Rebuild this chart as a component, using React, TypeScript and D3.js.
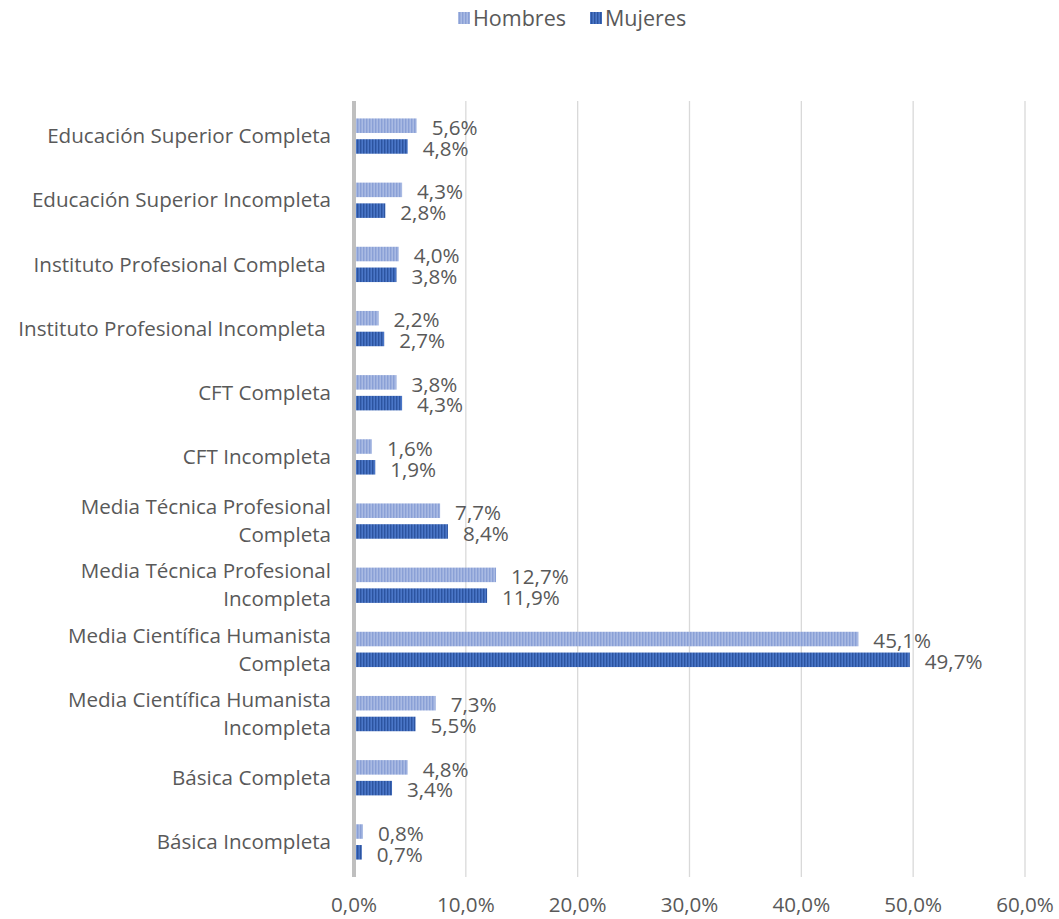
import * as d3 from "d3";

const categories = [
  ["Educación Superior Completa"],
  ["Educación Superior Incompleta"],
  ["Instituto Profesional Completa "],
  ["Instituto Profesional Incompleta "],
  ["CFT Completa"],
  ["CFT Incompleta"],
  ["Media Técnica Profesional", "Completa"],
  ["Media Técnica Profesional", "Incompleta"],
  ["Media Científica Humanista", "Completa"],
  ["Media Científica Humanista", "Incompleta"],
  ["Básica Completa"],
  ["Básica Incompleta"],
];

const hombres = [5.6, 4.3, 4.0, 2.2, 3.8, 1.6, 7.7, 12.7, 45.1, 7.3, 4.8, 0.8];
const mujeres = [4.8, 2.8, 3.8, 2.7, 4.3, 1.9, 8.4, 11.9, 49.7, 5.5, 3.4, 0.7];
const xTicks = [0, 10, 20, 30, 40, 50, 60];

const series = [
  { key: "Hombres", values: hombres, base: "#a9bae3", stripe: "#8aa0d6" },
  { key: "Mujeres", values: mujeres, base: "#4a76c7", stripe: "#2c54a0" },
];

const W = 1059;
const H = 919;
const font = "'Open Sans', 'Noto Sans', sans-serif";
const textColor = "#595959";
const fs = 20.6;

const fmt = (v: number) => v.toFixed(1).replace(".", ",") + "%";

export default function App() {
  const x = d3.scaleLinear().domain([0, 60]).range([354, 1025]);
  const y = d3
    .scaleBand<number>()
    .domain(d3.range(categories.length))
    .range([104, 874])
    .paddingInner(0.45)
    .paddingOuter(0.225);
  const sub = d3
    .scaleBand<string>()
    .domain(series.map((s) => s.key))
    .range([0, y.bandwidth()])
    .paddingInner(0.3);

  return (
    <svg
      width={W}
      height={H}
      style={{ position: "absolute", left: 0, top: 0, background: "#fff" }}
      fontFamily={font}
    >
      <defs>
        {series.map((s) => (
          <pattern
            key={s.key}
            id={"pat-" + s.key}
            width={3}
            height={4}
            patternUnits="userSpaceOnUse"
          >
            <rect width={3} height={4} fill={s.base} />
            <rect x={0} width={1.4} height={4} fill={s.stripe} />
          </pattern>
        ))}
      </defs>

      {/* legend */}
      {series.map((s, i) => {
        const lx = i === 0 ? 458 : 590;
        return (
          <g key={s.key}>
            <rect x={lx} y={12} width={12} height={12} fill={`url(#pat-${s.key})`} />
            <text x={lx + 15} y={18} dy="0.35em" fontSize={21.5} fill={textColor}>
              {s.key}
            </text>
          </g>
        );
      })}

      {/* gridlines */}
      {xTicks.slice(1).map((t) => (
        <line
          key={t}
          x1={x(t)}
          x2={x(t)}
          y1={101}
          y2={877}
          stroke="#d9d9d9"
          strokeWidth={1.3}
        />
      ))}

      {/* bars */}
      {categories.map((c, i) => (
        <g key={i}>
          {series.map((s) => {
            const by = (y(i) ?? 0) + (sub(s.key) ?? 0);
            const bh = sub.bandwidth();
            const v = s.values[i];
            return (
              <g key={s.key}>
                <rect
                  x={x(0)}
                  y={by}
                  width={x(v) - x(0)}
                  height={bh}
                  fill={`url(#pat-${s.key})`}
                />
                <text
                  x={x(v) + 15}
                  y={by + bh / 2 + 2}
                  dy="0.35em"
                  fontSize={fs}
                  fill={textColor}
                >
                  {fmt(v)}
                </text>
              </g>
            );
          })}
        </g>
      ))}

      {/* zero axis */}
      <line x1={x(0)} x2={x(0)} y1={101} y2={877} stroke="#bfbfbf" strokeWidth={4} />

      {/* category labels */}
      {categories.map((lines, i) => {
        const cy = (y(i) ?? 0) + y.bandwidth() / 2;
        const lh = 28;
        const start = cy - ((lines.length - 1) * lh) / 2;
        return (
          <text
            key={i}
            textAnchor="end"
            fontSize={fs}
            fill={textColor}
            style={{ whiteSpace: "pre" }}
          >
            {lines.map((l, j) => (
              <tspan key={j} x={331} y={start + j * lh} dy="0.35em">
                {l}
              </tspan>
            ))}
          </text>
        );
      })}

      {/* x tick labels */}
      {xTicks.map((t) => (
        <text
          key={t}
          x={x(t)}
          y={905}
          dy="0.35em"
          textAnchor="middle"
          fontSize={fs}
          fill={textColor}
        >
          {t.toFixed(1).replace(".", ",") + "%"}
        </text>
      ))}
    </svg>
  );
}
